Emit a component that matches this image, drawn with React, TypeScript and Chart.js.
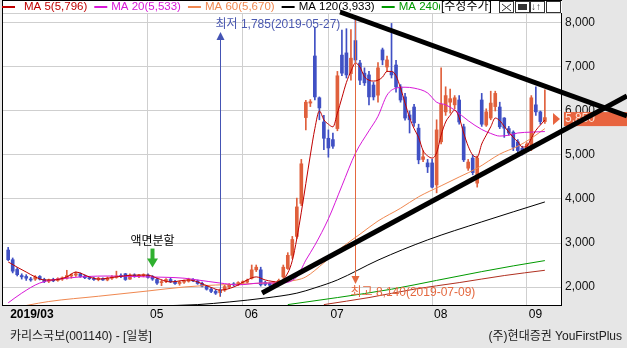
import { useEffect, useRef } from 'react';
import { Chart, registerables } from 'chart.js';

Chart.register(...registerables);

// ---- Daily candles (adjusted prices), index 0 = 2019-03-19 ----
const OPEN = [
  2840, 2620, 2400, 2260, 2240, 2180, 2180, 2240, 2170, 2130,
  2160, 2150, 2180, 2200, 2250, 2270, 2300, 2250, 2210, 2190,
  2170, 2190, 2160, 2200, 2220, 2250, 2300, 2180, 2270, 2250,
  2260, 2270, 2230, 2170, 2100, 2130, 2170, 2120, 2080, 2110,
  2130, 2170, 2140, 2080, 2020, 1950, 1900, 1870, 1930, 2000,
  2060, 2050, 2090, 2110, 2200, 2390, 2390, 2100, 2080, 2050,
  2090, 2230, 2420, 2720, 3150, 3900, 5850, 6180, 7250, 6300,
  5750, 5380, 5350, 5600, 7270, 7320, 6850, 7600, 7090, 6860,
  6820, 6590, 6360, 7390, 7000, 6890, 7045, 6545, 6320, 5910,
  6090, 5610, 4900, 4820, 4820, 4320, 5300, 5980, 6200, 6140,
  6250, 5640, 4700, 4930, 4360, 6250, 5680, 5840, 6100, 6090,
  5840, 5600, 5520, 5300, 5150, 5150, 5200, 6140, 5980, 5760,
];
const HIGH = [
  2900, 2660, 2440, 2300, 2280, 2220, 2260, 2260, 2200, 2180,
  2200, 2210, 2230, 2380, 2300, 2340, 2320, 2270, 2240, 2220,
  2220, 2210, 2230, 2260, 2360, 2300, 2310, 2300, 2300, 2290,
  2300, 2300, 2260, 2200, 2150, 2190, 2200, 2150, 2140, 2160,
  2200, 2190, 2160, 2110, 2040, 1980, 1940, 1960, 2040, 2080,
  2100, 2120, 2140, 2180, 2500, 2500, 2450, 2130, 2100, 2110,
  2180, 2500, 2780, 3150, 4020, 4900, 6240, 6260, 7900, 6320,
  5900, 5570, 5500, 6900, 7840, 7870, 7850, 8140, 7150, 6980,
  6900, 6650, 7100, 7430, 7250, 7990, 7150, 6600, 6400, 6000,
  6150, 5700, 5100, 4900, 4900, 5800, 6980, 6550, 6500, 6350,
  6350, 5700, 4900, 5000, 4980, 6400, 6050, 6450, 6450, 6200,
  5850, 5650, 5550, 5350, 5200, 5280, 6350, 6550, 6000, 6480,
];
const LOW = [
  2600, 2320, 2250, 2180, 2150, 2130, 2150, 2160, 2100, 2100,
  2120, 2130, 2150, 2180, 2200, 2240, 2220, 2190, 2170, 2150,
  2140, 2150, 2140, 2170, 2200, 2210, 2150, 2170, 2220, 2210,
  2230, 2200, 2150, 2060, 2030, 2100, 2100, 2060, 2040, 2080,
  2110, 2120, 2060, 2000, 1930, 1870, 1830, 1785, 1900, 1980,
  2020, 2030, 2060, 2090, 2180, 2350, 2020, 2030, 2010, 2030,
  2070, 2200, 2400, 2650, 3100, 3850, 5570, 6100, 6250, 5800,
  5120, 4950, 5150, 5550, 6800, 6750, 6700, 7100, 6600, 6580,
  6140, 6250, 6200, 7050, 6900, 6750, 6430, 6200, 5790, 5500,
  5650, 4800, 4850, 4600, 4250, 4140, 5250, 5900, 5950, 6050,
  5700, 4850, 4650, 4550, 4270, 5650, 5650, 5800, 6000, 5600,
  5400, 5450, 5100, 5050, 5000, 5080, 5100, 5900, 5700, 5720,
];
const CLOSE = [
  2620, 2360, 2280, 2230, 2200, 2160, 2230, 2180, 2120, 2160,
  2140, 2190, 2210, 2260, 2280, 2300, 2240, 2210, 2190, 2170,
  2200, 2160, 2200, 2230, 2250, 2240, 2170, 2270, 2250, 2260,
  2270, 2220, 2180, 2090, 2120, 2170, 2120, 2080, 2110, 2130,
  2170, 2140, 2080, 2020, 1950, 1900, 1860, 1930, 2010, 2060,
  2050, 2100, 2120, 2150, 2390, 2450, 2050, 2060, 2040, 2090,
  2150, 2450, 2720, 3080, 3820, 4800, 6200, 6210, 6320, 6070,
  5380, 5160, 5200, 6800, 6860, 6820, 7200, 7160, 6700, 6640,
  6320, 6320, 6980, 7160, 7160, 6820, 6545, 6250, 5840, 5800,
  5730, 4890, 4960, 4730, 4270, 5570, 6150, 6350, 6280, 6300,
  5750, 4890, 4840, 4600, 4930, 5700, 5980, 6180, 6400, 5640,
  5610, 5500, 5180, 5100, 5100, 5250, 6300, 5980, 5760, 5850,
];

// ---- Moving-average lines: [day index, price] ----
const MA5: [number, number][] = [
  [0, 2570], [2, 2450], [4, 2340], [6, 2230], [8, 2160], [10, 2160], [13, 2230], [15, 2340],
  [18, 2230], [20, 2180], [24, 2230], [28, 2270], [31, 2270], [33, 2200], [36, 2115], [40, 2160],
  [42, 2115], [45, 1990], [47, 1930], [50, 2000], [53, 2160], [55, 2230], [57, 2160], [60, 2115],
  [62, 2320], [63, 2600], [64, 3100], [65, 3700], [66, 4350], [67, 5000], [68, 5600], [69, 6000],
  [70, 5800], [71, 5700], [72, 5640], [73, 5950], [74, 6300], [75, 6650], [76, 6900], [77, 7090],
  [78, 7000], [79, 6780], [80, 6700], [81, 6680], [82, 6700], [83, 6770], [84, 6900], [85, 6900],
  [86, 6800], [87, 6520], [88, 6180], [89, 5850], [90, 5600], [91, 5400], [92, 5100], [93, 4980],
  [94, 4930], [95, 5050], [96, 5450], [97, 5750], [98, 5900], [99, 6020], [100, 5850], [101, 5500],
  [102, 5200], [103, 5000], [104, 4950], [105, 5250], [106, 5450], [107, 5640], [108, 5840], [109, 5780],
  [110, 5650], [111, 5520], [112, 5400], [113, 5300], [114, 5180], [115, 5200], [116, 5380], [117, 5560],
  [118, 5680], [119, 5796],
];
const MA20: [number, number][] = [
  [0, 1640], [3, 1860], [7, 2090], [13, 2200], [22, 2250], [31, 2230], [39, 2200], [42, 2160],
  [47, 2090], [51, 2050], [56, 2090], [60, 2090], [64, 2230], [66, 2610], [68, 2950], [71, 3550],
  [74, 4300], [77, 5040], [80, 5550], [82, 5880], [84, 6360], [86, 6520], [88, 6540], [90, 6520],
  [93, 6410], [95, 6200], [97, 6140], [99, 6020], [102, 5780], [105, 5580], [107, 5490], [109, 5430],
  [111, 5450], [113, 5500], [116, 5520], [119, 5533],
];
const MA60: [number, number][] = [
  [0, 1500], [9, 1670], [20, 1790], [31, 1910], [39, 2000], [46, 2045], [57, 2090], [64, 2160],
  [66, 2230], [70, 2550], [74, 2900], [78, 3200], [82, 3500], [87, 3790], [91, 4050], [96, 4300],
  [100, 4500], [104, 4700], [109, 5020], [113, 5200], [116, 5380], [119, 5600],
];
const MA120: [number, number][] = [
  [33, 1570], [42, 1600], [49, 1660], [57, 1750], [64, 1860], [68, 1980], [73, 2160], [82, 2610],
  [93, 3070], [105, 3480], [119, 3933],
];
const MA240: [number, number][] = [
  [62, 1600], [73, 1760], [85, 1950], [95, 2150], [105, 2350], [112, 2480], [119, 2600],
];
const MA_EXTRA: [number, number][] = [
  [70, 1600], [80, 1760], [90, 1950], [100, 2100], [110, 2260], [119, 2380],
];

const MA_NAMES = ['MA 5', 'MA 20', 'MA 60', 'MA 120', 'MA 240'];
const MA_LAST = ['5,796', '5,533', '5,670', '3,933', ''];

// ---- axis ticks ----
const MONTH_TICK_IDX = [0, 31, 52, 71, 94, 115];
const MONTH_TICK_LABELS = ['2019/03', '05', '06', '07', '08', '09'];
const PRICE_TICKS = [2000, 3000, 4000, 5000, 6000, 7000, 8000];

// ---- annotations (data coordinates) ----
const LOW_MARK = { idx: 47, price: 1785, date: '2019-05-27', label: '최저' };
const HIGH_MARK = { idx: 77, price: 8140, date: '2019-07-09', label: '최고' };
const SPLIT_IDX = 32;
const SPLIT_LABEL = '액면분할';
const LAST_PRICE = 5850;
const TREND_UPPER: [number, number][] = [[73.6, 8250], [137.2, 5886]];
const TREND_LOWER: [number, number][] = [[56.3, 1863], [137.2, 6341]];
const ADJ_LABEL = '[수정주가]';
const TITLE_LEFT = '카리스국보(001140) - [일봉]';
const TITLE_RIGHT = '(주)현대증권 YouFirstPlus';

// ---- styles ----
const FONT = '"Liberation Sans", "Noto Sans CJK KR", sans-serif';
const UP = '#e0603c';
const DOWN = '#4050c4';
const MA_COLORS = ['#c00000', '#d818d8', '#f08850', '#000000', '#009a00'];
const GRID = '#cfcfcf';
const PAGE_BG = '#e6e6e6';
const TAG = '#e8643f';

const fmt = (v: number) => v.toLocaleString('en-US');

const decor = {
  id: 'decor',
  beforeDraw(chart: any) {
    const { ctx, chartArea: a, width, height } = chart;
    ctx.save();
    ctx.fillStyle = PAGE_BG;
    ctx.fillRect(0, 0, width, height);
    ctx.fillStyle = '#ffffff';
    ctx.fillRect(a.left, 0, a.right - a.left, a.bottom);
    ctx.restore();
  },
  afterDraw(chart: any) {
    const { ctx, chartArea: a, scales, width, height } = chart;
    const xs = scales.x;
    const ys = scales.y;
    ctx.save();
    ctx.lineWidth = 1;
    ctx.strokeStyle = GRID;
    ctx.beginPath();
    ctx.moveTo(a.left, a.top + 0.5);
    ctx.lineTo(a.right, a.top + 0.5);
    ctx.stroke();
    ctx.strokeStyle = '#000';
    ctx.strokeRect(a.left + 0.5, 0.5, a.right - a.left - 1, a.bottom);

    ctx.font = `12px ${FONT}`;
    ctx.textBaseline = 'middle';

    // lowest-price marker
    {
      const x = Math.round(xs.getPixelForValue(LOW_MARK.idx)) + 0.5;
      const y = ys.getPixelForValue(LOW_MARK.price);
      const tip = a.top + 19;
      ctx.strokeStyle = '#4454b4';
      ctx.fillStyle = '#4454b4';
      ctx.beginPath();
      ctx.moveTo(x, y);
      ctx.lineTo(x, tip + 6);
      ctx.stroke();
      ctx.beginPath();
      ctx.moveTo(x, tip);
      ctx.lineTo(x - 4, tip + 8);
      ctx.lineTo(x + 4, tip + 8);
      ctx.closePath();
      ctx.fill();
      ctx.fillStyle = '#4a58b0';
      ctx.textAlign = 'left';
      ctx.fillText(`${LOW_MARK.label} ${fmt(LOW_MARK.price)}(${LOW_MARK.date})`, x - 5, a.top + 12);
    }
    // highest-price marker
    {
      const x = Math.round(xs.getPixelForValue(HIGH_MARK.idx)) + 0.5;
      const y = ys.getPixelForValue(HIGH_MARK.price);
      const tip = a.bottom - 21;
      ctx.strokeStyle = '#e4683f';
      ctx.fillStyle = '#e4683f';
      ctx.beginPath();
      ctx.moveTo(x, y);
      ctx.lineTo(x, tip - 6);
      ctx.stroke();
      ctx.beginPath();
      ctx.moveTo(x, tip);
      ctx.lineTo(x - 4, tip - 8);
      ctx.lineTo(x + 4, tip - 8);
      ctx.closePath();
      ctx.fill();
      ctx.textAlign = 'left';
      ctx.fillText(`${HIGH_MARK.label} ${fmt(HIGH_MARK.price)}(${HIGH_MARK.date})`, x - 5, a.bottom - 12);
    }
    // stock split marker
    {
      const x = xs.getPixelForValue(SPLIT_IDX);
      const tip = ys.getPixelForValue(HIGH[SPLIT_IDX]) - 8;
      ctx.fillStyle = '#2fb02f';
      ctx.fillRect(x - 2, tip - 19, 4, 11);
      ctx.beginPath();
      ctx.moveTo(x - 5.5, tip - 9);
      ctx.lineTo(x + 5.5, tip - 9);
      ctx.lineTo(x, tip);
      ctx.closePath();
      ctx.fill();
      ctx.fillStyle = '#000';
      ctx.textAlign = 'center';
      ctx.fillText(SPLIT_LABEL, x, tip - 26);
    }
    // current price tag
    {
      const y = ys.getPixelForValue(LAST_PRICE) + 1.5;
      ctx.fillStyle = TAG;
      ctx.fillRect(a.right + 2, y - 7, width - a.right - 2, 14);
      ctx.beginPath();
      ctx.moveTo(a.right - 9, y - 6);
      ctx.lineTo(a.right - 2, y);
      ctx.lineTo(a.right - 9, y + 6);
      ctx.closePath();
      ctx.fill();
      ctx.fillStyle = '#ffe4d8';
      ctx.textAlign = 'left';
      ctx.fillText(fmt(LAST_PRICE), a.right + 3, y);
    }
    // hand-drawn trend lines
    ctx.strokeStyle = '#000';
    ctx.lineWidth = 5;
    for (const seg of [TREND_UPPER, TREND_LOWER]) {
      ctx.beginPath();
      ctx.moveTo(xs.getPixelForValue(seg[0][0]), ys.getPixelForValue(seg[0][1]));
      ctx.lineTo(xs.getPixelForValue(seg[1][0]), ys.getPixelForValue(seg[1][1]));
      ctx.stroke();
    }

    // legend strip
    ctx.font = `11.5px ${FONT}`;
    ctx.lineWidth = 2;
    ctx.textAlign = 'left';
    let x = a.left;
    const ly = 7;
    MA_NAMES.forEach((name, i) => {
      ctx.strokeStyle = MA_COLORS[i];
      ctx.beginPath();
      ctx.moveTo(x, ly);
      ctx.lineTo(x + 13, ly);
      ctx.stroke();
      x += i === 0 ? 22 : 17;
      const txt = MA_LAST[i] ? `${name}(${MA_LAST[i]})` : `${name}(`;
      ctx.fillStyle = MA_COLORS[i];
      ctx.fillText(txt, x, ly);
      x += ctx.measureText(txt).width + 7;
    });
    // [수정주가] box and tool icons
    ctx.font = `12px ${FONT}`;
    const bx = a.right - 122;
    ctx.fillStyle = '#fff';
    ctx.fillRect(bx, 1, 122, 12);
    ctx.fillStyle = '#000';
    ctx.fillText(ADJ_LABEL, bx + 1, ly);
    ctx.lineWidth = 1;
    ctx.strokeStyle = '#333';
    const ix = a.right - 63;
    for (let k = 0; k < 4; k++) {
      const bx2 = ix + k * 15.5;
      ctx.strokeRect(Math.round(bx2) + 0.5, 1.5, 14, 11);
    }
    ctx.beginPath();
    ctx.moveTo(ix + 3, 4); ctx.lineTo(ix + 12, 11);
    ctx.moveTo(ix + 12, 4); ctx.lineTo(ix + 3, 11);
    ctx.stroke();
    ctx.fillStyle = '#333';
    ctx.fillRect(ix + 19, 4, 9, 6);
    ctx.font = `10px ${FONT}`;
    ctx.fillText('↓↑', ix + 32, ly);

    // bottom captions
    ctx.font = `12px ${FONT}`;
    ctx.fillStyle = '#202020';
    ctx.textAlign = 'left';
    ctx.fillText(TITLE_LEFT, 10, height - 11);
    ctx.textAlign = 'right';
    ctx.fillText(TITLE_RIGHT, width - 5, height - 11);
    ctx.restore();
  },
};

export default function App() {
  const ref = useRef<HTMLCanvasElement | null>(null);

  useEffect(() => {
    if (!ref.current) return;
    const idx = OPEN.map((_, i) => i);
    const colors = idx.map((i) => (CLOSE[i] >= OPEN[i] ? UP : DOWN));
    const maSets = [MA5, MA20, MA60, MA120, MA240].map((arr, k) => ({
      type: 'line' as const,
      label: MA_NAMES[k],
      data: arr.map(([x, y]) => ({ x, y })),
      borderColor: MA_COLORS[k],
      borderWidth: 1,
      pointRadius: 0,
      cubicInterpolationMode: 'monotone' as const,
      order: 1,
    }));
    const chart = new Chart(ref.current, {
      type: 'bar',
      data: {
        datasets: [
          ...maSets,
          {
            type: 'line',
            label: 'extra',
            data: MA_EXTRA.map(([x, y]) => ({ x, y })),
            borderColor: '#b03020',
            borderWidth: 1,
            pointRadius: 0,
            cubicInterpolationMode: 'monotone',
            order: 1,
          } as any,
          {
            type: 'bar',
            label: 'body',
            data: idx.map((i) => ({ x: i, y: [OPEN[i], CLOSE[i]] })) as any,
            backgroundColor: colors,
            barThickness: 3,
            minBarLength: 1,
            grouped: false,
            order: 5,
          } as any,
          {
            type: 'bar',
            label: 'wick',
            data: idx.map((i) => ({ x: i, y: [LOW[i], HIGH[i]] })) as any,
            backgroundColor: colors,
            barThickness: 1,
            grouped: false,
            order: 6,
          } as any,
        ],
      },
      options: {
        responsive: false,
        animation: false,
        devicePixelRatio: 1,
        events: [],
        layout: { padding: { left: 2, top: 13, right: 0, bottom: 0 } },
        plugins: { legend: { display: false }, tooltip: { enabled: false } },
        scales: {
          x: {
            type: 'linear',
            min: -1.37,
            max: 122.8,
            offset: false,
            border: { display: false },
            grid: {
              offset: false,
              drawTicks: false,
              color: (c: any) => (c.index === 0 ? 'rgba(0,0,0,0)' : GRID),
            },
            afterBuildTicks: (s: any) => {
              s.ticks = MONTH_TICK_IDX.map((v) => ({ value: v }));
            },
            afterFit: (s: any) => {
              s.height = 43;
            },
            ticks: {
              autoSkip: false,
              maxRotation: 0,
              align: 'start',
              padding: 2,
              labelOffset: 2,
              color: '#000',
              font: (c: any) => ({ family: FONT, size: 12, weight: c.index === 0 ? 'bold' : 'normal' }),
              callback: (v: any) => {
                const k = MONTH_TICK_IDX.indexOf(Number(v));
                return k >= 0 ? MONTH_TICK_LABELS[k] : '';
              },
            },
          } as any,
          y: {
            type: 'linear',
            position: 'right',
            min: 1591,
            max: 8227,
            border: { display: false },
            grid: { drawTicks: false, color: GRID },
            afterBuildTicks: (s: any) => {
              s.ticks = PRICE_TICKS.map((v) => ({ value: v }));
            },
            afterFit: (s: any) => {
              s.width = 65;
            },
            ticks: {
              padding: 3,
              color: '#111',
              font: { family: FONT, size: 12 },
              callback: (v: any) => fmt(Number(v)),
            },
          } as any,
        },
      },
      plugins: [decor],
    });
    return () => chart.destroy();
  }, []);

  return (
    <div style={{ position: 'fixed', left: 0, top: 0, width: 627, height: 348, background: PAGE_BG }}>
      <canvas ref={ref} width={627} height={348} style={{ display: 'block' }} />
    </div>
  );
}
